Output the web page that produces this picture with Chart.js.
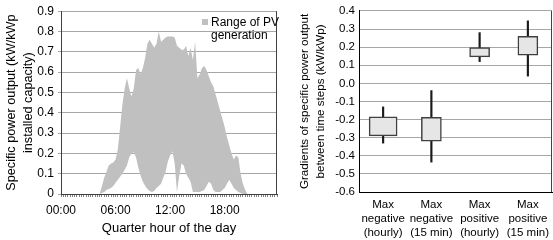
<!DOCTYPE html>
<html>
<head>
<meta charset="utf-8">
<script src="https://cdn.jsdelivr.net/npm/chart.js@4/dist/chart.umd.min.js"></script>
<style>
  body { margin: 0; background: #fff; }
  #left { position: absolute; left: 0; top: 0; width: 283px; height: 240px; }
  #right { position: absolute; left: 283px; top: 0; width: 270px; height: 240px; }
</style>
</head>
<body>
<div id="left"><canvas id="pv_range_chart" width="283" height="240"></canvas></div>
<div id="right"><canvas id="pv_gradient_chart" width="270" height="240"></canvas></div>
<script>
// left chart: 96 quarter hours of the day
const quarter_labels = [];
for (let h = 0; h < 24; h++) {
    for (let m = 0; m < 60; m += 15) {
        quarter_labels.push(String(h).padStart(2, "0") + ":" + String(m).padStart(2, "0"));
    }
}
const hour_tick_labels = ["00:00", "06:00", "12:00", "18:00"];

const pv_lower = [
    0, 0, 0, 0, 0, 0, 0, 0, 0, 0, 0, 0, 0, 0, 0, 0,
    0, 0, 0.005, 0.01, 0.02, 0.025, 0.03, 0.04, 0.055, 0.07, 0.085, 0.1, 0.12, 0.14, 0.18, 0.2,
    0.205, 0.18, 0.13, 0.09, 0.06, 0.04, 0.025, 0.015, 0.01, 0.015, 0.03, 0.04, 0.05, 0.08, 0.11, 0.16,
    0.19, 0.21, 0.15, 0.01, 0.09, 0.15, 0.14, 0.1, 0.08, 0.06, 0.01, 0.01, 0.01, 0.01, 0.015, 0.02,
    0.04, 0.06, 0.05, 0.02, 0.01, 0.01, 0.01, 0.02, 0.03, 0.05, 0.07, 0.05, 0.03, 0.02, 0.01, 0.005,
    0, 0, 0, 0, 0, 0, 0, 0, 0, 0, 0, 0, 0, 0, 0, 0
];
const pv_upper = [
    0, 0, 0, 0, 0, 0, 0, 0, 0, 0, 0, 0, 0, 0, 0, 0,
    0, 0, 0.04, 0.08, 0.11, 0.14, 0.15, 0.155, 0.17, 0.22, 0.33, 0.44, 0.52, 0.57, 0.52, 0.48,
    0.52, 0.61, 0.62, 0.59, 0.62, 0.67, 0.74, 0.76, 0.74, 0.72, 0.74, 0.8, 0.75, 0.76, 0.77, 0.775,
    0.775, 0.775, 0.77, 0.73, 0.72, 0.71, 0.71, 0.73, 0.68, 0.72, 0.66, 0.75, 0.57, 0.59, 0.62, 0.63,
    0.61, 0.58, 0.55, 0.53, 0.49, 0.45, 0.41, 0.37, 0.33, 0.28, 0.24, 0.2, 0.17, 0.19, 0.18, 0.1,
    0.05, 0.02, 0, 0, 0, 0, 0, 0, 0, 0, 0, 0, 0, 0, 0, 0
];

// right chart: gradients between time steps
const gradient_categories = [
    ["Max", "negative", "(hourly)"],
    ["Max", "negative", "(15 min)"],
    ["Max", "positive", "(hourly)"],
    ["Max", "positive", "(15 min)"]
];
const box_high = [-0.185, -0.187, 0.198, 0.26];
const box_low = [-0.29, -0.32, 0.146, 0.155];
const whisker_high = [-0.13, -0.04, 0.28, 0.345];
const whisker_low = [-0.33, -0.435, 0.12, 0.04];

const grid_colour = "#a6a6a6";
const axis_colour = "#404040";
const band_colour = "#c0c0c0";
const font_family = "'Liberation Sans', Arial, sans-serif";

const frame_plugin = {
    id: "frame",
    afterDraw(chart) {
        const {ctx, chartArea} = chart;
        ctx.save();
        ctx.strokeStyle = axis_colour;
        ctx.lineWidth = 1;
        ctx.beginPath();
        ctx.moveTo(Math.round(chartArea.right) - 0.5, chartArea.top);
        ctx.lineTo(Math.round(chartArea.right) - 0.5, chartArea.bottom);
        ctx.stroke();
        ctx.restore();
    }
};

const band_legend_plugin = {
    id: "band_legend",
    afterDraw(chart) {
        const {ctx} = chart;
        const ds = chart.data.datasets[1];
        ctx.save();
        ctx.fillStyle = ds.backgroundColor;
        ctx.fillRect(202, 19, 6, 6);
        ctx.fillStyle = "#000";
        ctx.font = "12px " + font_family;
        ctx.textBaseline = "middle";
        ds.label.forEach((line, i) => ctx.fillText(line, 211, 22.5 + i * 13.5));
        ctx.restore();
    }
};

const pv_range_chart = new Chart("pv_range_chart",
{
    type: "line",
    data:
    {
        labels: quarter_labels,
        datasets:
        [
            {
                label: "Lower",
                data: pv_lower,
                borderWidth: 0,
                pointRadius: 0,
                fill: false,
                backgroundColor: band_colour
            },
            {
                label: ["Range of PV", "generation"],
                data: pv_upper,
                borderWidth: 0,
                pointRadius: 0,
                fill: "-1",
                backgroundColor: band_colour
            }
        ]
    },
    options:
    {
        responsive: false,
        animation: false,
        layout: { padding: { top: 7, right: 5, bottom: 0, left: 0 } },
        plugins:
        {
            legend: { display: false },
            tooltip: { enabled: false }
        },
        scales:
        {
            x:
            {
                afterFit: (scale) => { scale.height = 46; },
                grid:
                {
                    drawOnChartArea: false,
                    tickLength: 3,
                    color: "#808080"
                },
                border: { color: axis_colour },
                ticks:
                {
                    autoSkip: false,
                    maxRotation: 0,
                    padding: 6,
                    color: "#000",
                    font: { family: font_family, size: 12 },
                    callback: (value, index) => index % 24 === 0 ? hour_tick_labels[index / 24] : ""
                },
                title:
                {
                    display: true,
                    text: "Quarter hour of the day",
                    color: "#000",
                    font: { family: font_family, size: 13 },
                    padding: { top: 0, bottom: 4 }
                }
            },
            y:
            {
                min: 0,
                max: 0.9,
                afterFit: (scale) => { scale.width = 61; },
                grid: { color: grid_colour, tickLength: 3 },
                border: { color: axis_colour },
                ticks:
                {
                    stepSize: 0.1,
                    padding: 4,
                    color: "#000",
                    font: { family: font_family, size: 12 }
                },
                title:
                {
                    display: true,
                    text: ["Specific power output (kW/kWp", "installed capacity)"],
                    color: "#000",
                    font: { family: font_family, size: 12.7, lineHeight: 1.33 },
                    padding: { top: 3, bottom: 0 }
                }
            }
        }
    },
    plugins: [frame_plugin, band_legend_plugin]
});

const pv_gradient_chart = new Chart("pv_gradient_chart",
{
    type: "bar",
    data:
    {
        labels: gradient_categories,
        datasets:
        [
            {
                label: "Box wide",
                data: box_high.map((v, i) => i === 0 ? [box_low[i], v] : null),
                backgroundColor: "#e6e6e6",
                borderColor: axis_colour,
                borderWidth: 1.5,
                borderSkipped: false,
                barThickness: 28
            },
            {
                label: "Box",
                data: box_high.map((v, i) => i === 0 ? null : [box_low[i], v]),
                backgroundColor: "#e6e6e6",
                borderColor: axis_colour,
                borderWidth: 1.5,
                borderSkipped: false,
                barThickness: 20
            },
            {
                label: "Whisker",
                data: whisker_high.map((v, i) => [whisker_low[i], v]),
                backgroundColor: "#1a1a1a",
                borderWidth: 0,
                barThickness: 1.5
            }
        ]
    },
    options:
    {
        responsive: false,
        animation: false,
        grouped: false,
        layout: { padding: { top: 7, right: 1, bottom: 0, left: 0 } },
        plugins:
        {
            legend: { display: false },
            tooltip: { enabled: false }
        },
        scales:
        {
            x:
            {
                afterFit: (scale) => { scale.height = 48; },
                grid: { display: false },
                border: { color: "#000" },
                ticks:
                {
                    autoSkip: false,
                    maxRotation: 0,
                    padding: -2,
                    color: "#000",
                    font: { family: font_family, size: 11.5, lineHeight: 1.22 }
                }
            },
            y:
            {
                min: -0.6,
                max: 0.4,
                afterFit: (scale) => { scale.width = 76; },
                grid: { color: grid_colour, drawTicks: false },
                border: { color: "#000" },
                ticks:
                {
                    stepSize: 0.1,
                    padding: 4,
                    color: "#000",
                    font: { family: font_family, size: 11.5 },
                    callback: (value) => (Math.abs(value) < 1e-9 ? 0 : value).toFixed(1)
                },
                title:
                {
                    display: true,
                    text: ["Gradients of specific power output", "between time steps (kW/kWp)"],
                    color: "#000",
                    font: { family: font_family, size: 11.6, lineHeight: 1.38 },
                    padding: { top: 14, bottom: 0 }
                }
            }
        }
    },
    plugins: [frame_plugin]
});
</script>
</body>
</html>
